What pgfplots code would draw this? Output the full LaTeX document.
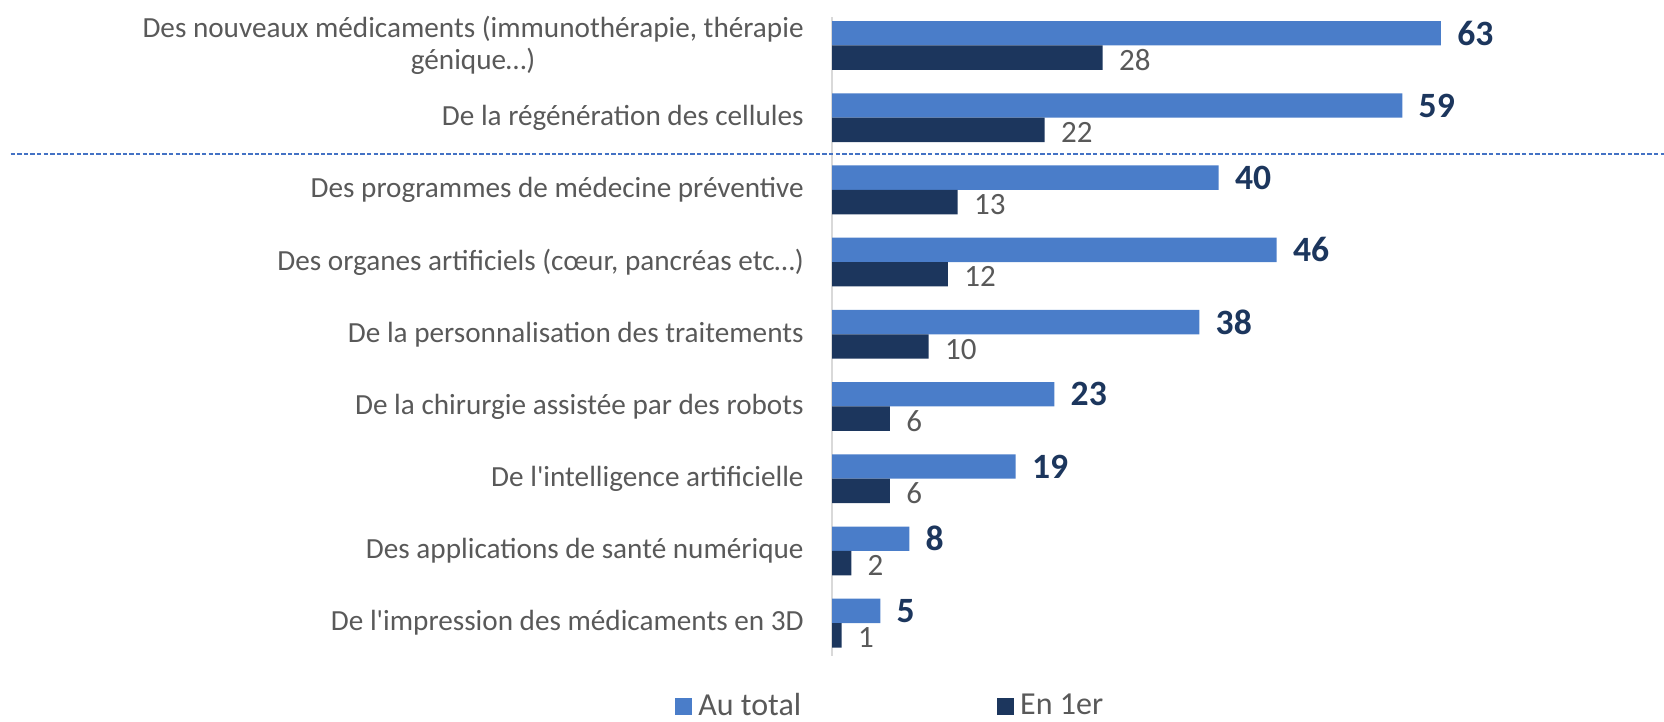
\documentclass[border=0pt]{standalone}
\usepackage{pgfplots}
\pgfplotsset{compat=1.18}
\usepackage{fontspec}
\setmainfont{Carlito}
\definecolor{lightbar}{HTML}{4A7DC9}
\definecolor{darkbar}{HTML}{1C365D}
\definecolor{txtgray}{HTML}{595959}
\definecolor{axgray}{HTML}{D9D9D9}
\definecolor{dashblue}{HTML}{4472C4}
\begin{document}
\begin{tikzpicture}
\begin{axis}[
  at={(416bp,33.2bp)}, anchor=south west,
  scale only axis, width=416bp, height=319.5bp,
  xbar, bar width=12.2bp,
  xmin=0, xmax=86.07, ymin=-0.45, ymax=8.4,
  axis x line=none, axis y line*=left,
  y axis line style={draw=axgray, line width=0.75bp},
  ytick={0,...,8}, major tick length=0pt,
  /pgf/number format/assume math mode=true,
  yticklabels={
    {De l\textquotesingle impression des médicaments en 3D},
    {Des applications de santé numérique},
    {De l\textquotesingle intelligence artificielle},
    {De la chirurgie assistée par des robots},
    {De la personnalisation des traitements},
    {Des organes artificiels (cœur, pancréas etc…)},
    {Des programmes de médecine préventive},
    {De la régénération des cellules},
    {Des nouveaux médicaments (immunothérapie, thérapie\\génique…)}},
  yticklabel style={font=\fontsize{14.6bp}{16bp}\selectfont, text=txtgray, align=center, inner sep=0pt, xshift=-14bp},
  clip=false,
  legend columns=2,
  legend style={draw=none, fill=none, at={(-0.1887,-0.0789)}, anchor=west, inner sep=0pt,
    font=\fontsize{16bp}{18bp}\selectfont, text=txtgray,
    nodes={inner sep=0pt},
    /tikz/every even column/.append style={column sep=98bp},
    /tikz/every odd column/.append style={column sep=3bp}},
  legend image code/.code={\fill[#1] (0bp,-4.25bp) rectangle (8.5bp,4.25bp);},
]
\addplot[fill=lightbar, draw=none, bar shift=6.1bp, point meta=x,
  nodes near coords={\pgfmathprintnumber[assume math mode=true]{\pgfplotspointmeta}},
  nodes near coords style={font=\fontsize{17.8bp}{20bp}\selectfont\bfseries, text=darkbar, anchor=west, inner sep=0pt, xshift=8bp}]
  coordinates {(63,8) (59,7) (40,6) (46,5) (38,4) (23,3) (19,2) (8,1) (5,0)};
\addlegendentry{Au total}
\addplot[fill=darkbar, draw=none, bar shift=-6.1bp, point meta=x,
  nodes near coords={\pgfmathprintnumber[assume math mode=true]{\pgfplotspointmeta}},
  nodes near coords style={font=\fontsize{15.5bp}{18bp}\selectfont, text=txtgray, anchor=west, inner sep=0pt, xshift=8bp, yshift=-1.3bp}]
  coordinates {(28,8) (22,7) (13,6) (12,5) (10,4) (6,3) (6,2) (2,1) (1,0)};
\addlegendentry{En 1er}
\draw[dashblue, line width=0.75bp, dash pattern=on 2.2bp off 1.1bp] (axis cs:-84.97,6.5) -- (axis cs:86.07,6.5);
\end{axis}
\pgfresetboundingbox
\path[use as bounding box] (0,0) rectangle (832bp,361bp);
\end{tikzpicture}
\end{document}
